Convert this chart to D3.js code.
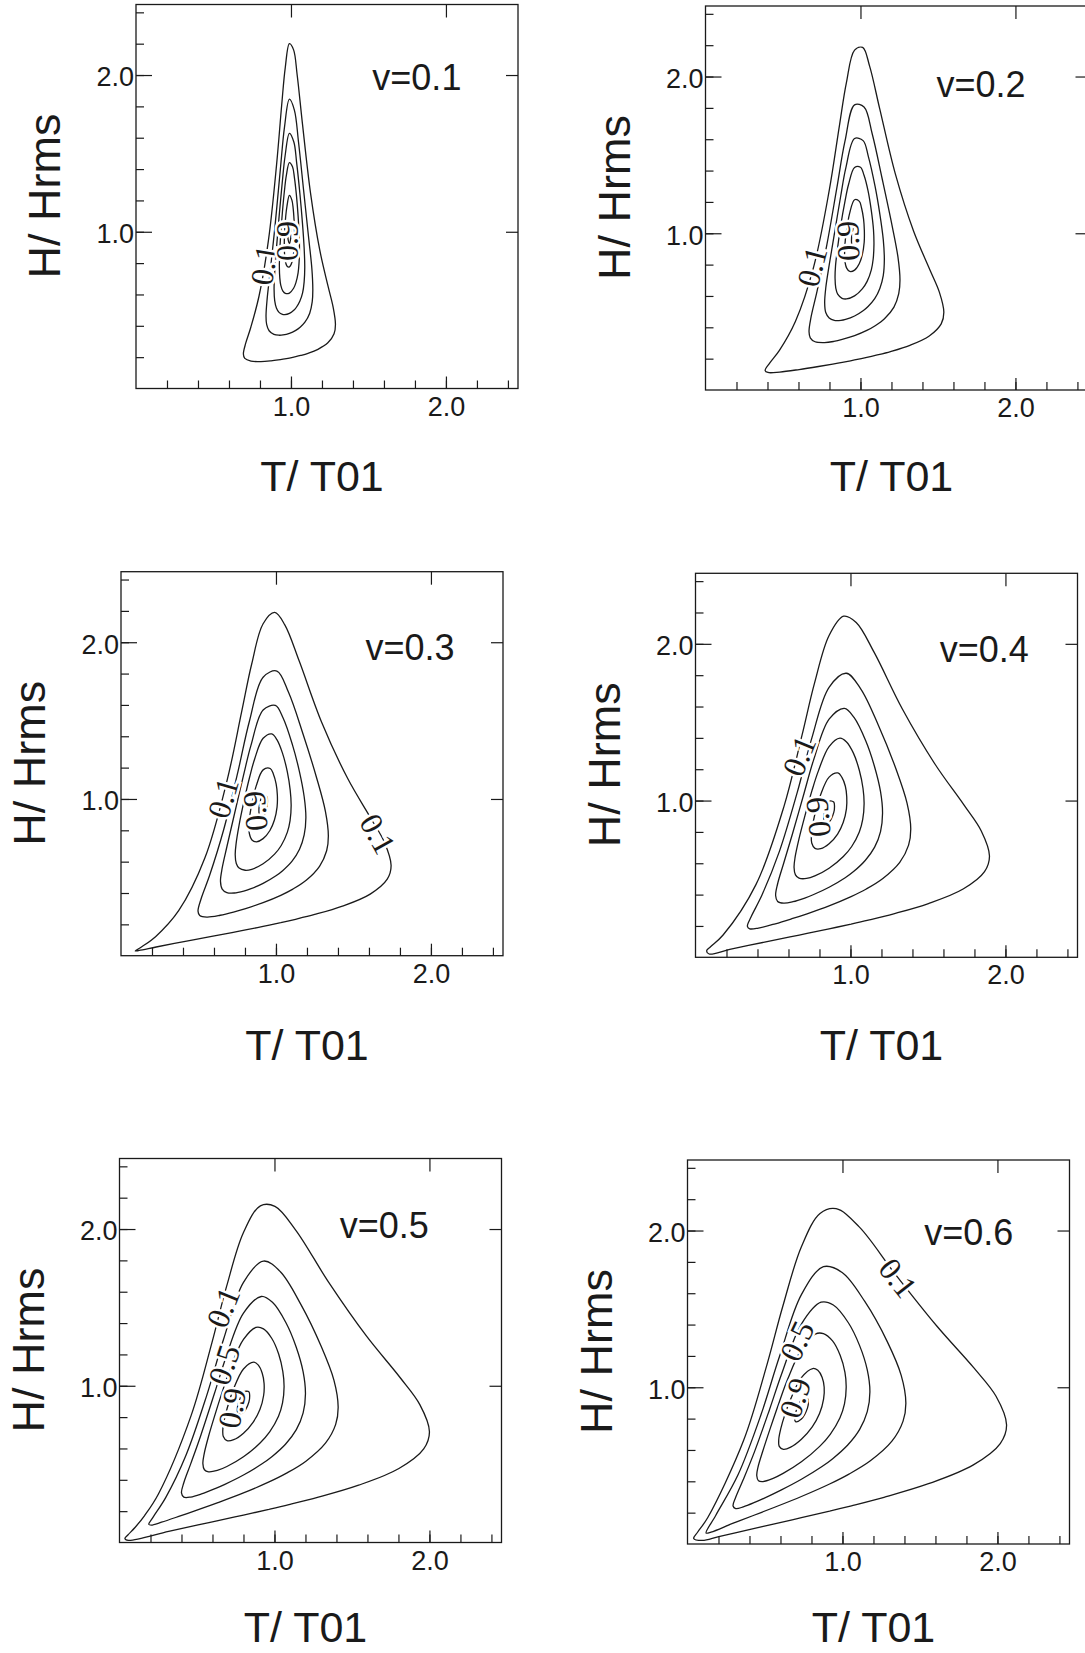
<!DOCTYPE html>
<html><head><meta charset="utf-8">
<script src="https://cdn.jsdelivr.net/npm/d3@7"></script>
<style>body{margin:0;background:#fff}</style>
</head><body>
<svg id="chart" width="1085" height="1653"></svg>
<script>
// ---------------- data ----------------
const nuValues = [0.1, 0.2, 0.3, 0.4, 0.5, 0.6];
const contourLevels = [0.1, 0.3, 0.5, 0.7, 0.9, 0.99];
const minorTicks = [0.2, 0.4, 0.6, 0.8, 1.0, 1.2, 1.4, 1.6, 1.8, 2.0, 2.2, 2.4];
const majorTicks = [1.0, 2.0];
const xTitle = "T/ T01";
const yTitle = "H/ Hrms";

// closed contour rings, [T/T01, H/Hrms], one ring per level (0.1 .. 0.99)
const contoursNu01 = [
 [[.990,.1945],[1.031,.2031],[1.063,.2110],[1.110,.2248],[1.174,.2501],[1.238,.2914],[1.278,.3495],[1.287,.4090],[1.272,.5190],[1.240,.6495],[1.186,.8821],[1.126,1.2485],[1.074,1.6899],[1.040,2.0000],[1.017,2.1606],[.990,2.2002],
  [.963,2.0462],[.940,1.8069],[.907,1.4269],[.855,.9479],[.794,.5901],[.740,.3879],[.708,.2890],[.693,.2202],[.702,.1921],[.742,.1746],[.806,.1717],[.871,.1764],[.918,.1822],[.949,.1871]],
 [[.990,.3518],[1.031,.3710],[1.059,.3907],[1.090,.4228],[1.121,.4806],[1.137,.5524],[1.141,.6283],[1.135,.7628],[1.114,.9620],[1.082,1.2606],[1.049,1.5695],[1.022,1.7763],[.990,1.8459],
  [.958,1.6658],[.931,1.3933],[.898,1.0468],[.866,.7474],[.846,.5686],[.839,.4617],[.843,.4094],[.859,.3684],[.890,.3454],[.921,.3399],[.949,.3416]],
 [[.990,.4792],[1.020,.5006],[1.035,.5184],[1.057,.5565],[1.075,.6097],[1.085,.6806],[1.089,.7740],[1.085,.8960],[1.074,1.0565],[1.058,1.2397],[1.036,1.4463],[1.019,1.5709],[.990,1.6280],
  [.962,1.4833],[.944,1.3173],[.922,1.0803],[.906,.8909],[.895,.7388],[.891,.6332],[.895,.5612],[.906,.5139],[.923,.4859],[.945,.4732],[.960,.4714]],
 [[.990,.6090],[1.017,.6397],[1.032,.6757],[1.046,.7383],[1.052,.8007],[1.055,.8870],[1.053,.9785],[1.046,1.1016],[1.035,1.2351],[1.022,1.3476],[1.010,1.4144],[.990,1.4409],
  [.970,1.3584],[.958,1.2636],[.945,1.1279],[.934,.9836],[.927,.8617],[.925,.7780],[.928,.7059],[.934,.6595],[.948,.6210],[.964,.6063]],
 [[.990,.7759],[1.006,.8049],[1.016,.8551],[1.022,.9270],[1.023,.9998],[1.020,1.0749],[1.014,1.1513],[1.006,1.2017],[.990,1.2316],
  [.974,1.1627],[.966,1.0975],[.960,1.0117],[.957,.9358],[.958,.8688],[.964,.8109],[.975,.7799]],
 [[.990,.9250],[.999,.9643],[1.000,1.0000],[.999,1.0342],[.990,1.0668],[.981,1.0162],[.980,.9801],[.982,.9477]]
];
const contoursNu02 = [
 [[.962,.1917],[1.041,.2081],[1.102,.2222],[1.194,.2455],[1.319,.2852],[1.444,.3449],[1.521,.4221],[1.538,.4961],[1.509,.6247],[1.447,.7690],[1.343,1.0131],[1.225,1.3786],[1.124,1.7951],[1.059,2.0661],[1.014,2.1858],[.962,2.1684],
  [.909,1.9602],[.864,1.6857],[.799,1.2766],[.698,.7860],[.580,.4377],[.477,.2534],[.414,.1715],[.385,.1240],[.403,.1117],[.479,.1145],[.604,.1306],[.729,.1499],[.821,.1654],[.883,.1765]],
 [[.962,.3467],[1.041,.3801],[1.095,.4101],[1.155,.4547],[1.216,.5289],[1.247,.6148],[1.255,.7012],[1.242,.8474],[1.203,1.0537],[1.140,1.3478],[1.076,1.6335],[1.023,1.8051],[.962,1.8192],
  [.900,1.5873],[.847,1.2863],[.783,.9262],[.720,.6309],[.681,.4646],[.668,.3730],[.676,.3330],[.707,.3077],[.768,.3023],[.828,.3099],[.882,.3223]],
 [[.962,.4723],[1.019,.5076],[1.049,.5332],[1.092,.5831],[1.125,.6479],[1.147,.7297],[1.154,.8321],[1.147,.9607],[1.125,1.1227],[1.094,1.3002],[1.051,1.4890],[1.017,1.5912],[.962,1.6045],
  [.906,1.4188],[.872,1.2346],[.830,.9862],[.798,.7965],[.776,.6505],[.769,.5547],[.776,.4941],[.798,.4593],[.831,.4441],[.874,.4440],[.904,.4502]],
 [[.962,.6002],[1.013,.6468],[1.043,.6929],[1.070,.7664],[1.082,.8358],[1.087,.9279],[1.084,1.0220],[1.070,1.1439],[1.049,1.2701],[1.023,1.3696],[1.000,1.4215],[.962,1.4200],
  [.923,1.3113],[.900,1.2038],[.874,1.0587],[.853,.9111],[.839,.7916],[.836,.7131],[.841,.6490],[.853,.6112],[.881,.5851],[.910,.5811]],
 [[.962,.7647],[.992,.8056],[1.012,.8644],[1.024,.9423],[1.025,1.0170],[1.020,1.0905],[1.007,1.1611],[.993,1.2035],[.962,1.2138],
  [.930,1.1267],[.916,1.0553],[.903,.9659],[.898,.8906],[.899,.8275],[.911,.7776],[.931,.7562]],
 [[.962,.9116],[.978,.9585],[.981,.9953],[.978,1.0282],[.962,1.0514],[.945,.9926],[.942,.9561],[.945,.9259]]
];
const contoursNu03 = [
 [[.917,.1872],[1.031,.2110],[1.119,.2309],[1.250,.2631],[1.429,.3163],[1.608,.3931],[1.718,.4881],[1.743,.5755],[1.701,.7209],[1.612,.8771],[1.463,1.1301],[1.294,1.4913],[1.150,1.8799],[1.057,2.1110],[.992,2.1900],[.917,2.1180],
  [.843,1.8596],[.778,1.5536],[.685,1.1203],[.541,.6230],[.372,.2871],[.223,.1215],[.134,.0569],[.092,.0303],[.117,.0333],[.227,.0555],[.406,.0899],[.585,.1231],[.716,.1477],[.804,.1646]],
 [[.917,.3387],[1.031,.3854],[1.109,.4250],[1.195,.4814],[1.281,.5706],[1.327,.6694],[1.338,.7650],[1.319,.9212],[1.263,1.1324],[1.173,1.4195],[1.081,1.6804],[1.006,1.8162],[.917,1.7769],
  [.829,1.4972],[.754,1.1716],[.662,.8017],[.572,.5130],[.516,.3604],[.497,.2842],[.508,.2564],[.554,.2465],[.640,.2580],[.726,.2782],[.804,.3006]],
 [[.917,.4613],[1.000,.5099],[1.043,.5426],[1.104,.6035],[1.152,.6790],[1.182,.7703],[1.193,.8805],[1.182,1.0140],[1.151,1.1763],[1.106,1.3466],[1.046,1.5164],[.996,1.5964],[.917,1.5672],
  [.839,1.3436],[.789,1.1437],[.728,.8866],[.684,.6983],[.653,.5597],[.642,.4741],[.653,.4251],[.683,.4026],[.731,.3999],[.792,.4120],[.835,.4257]],
 [[.917,.5863],[.991,.6479],[1.034,.7031],[1.073,.7866],[1.091,.8621],[1.098,.9588],[1.092,1.0545],[1.073,1.1741],[1.042,1.2922],[1.006,1.3782],[.973,1.4153],[.917,1.3870],
  [.862,1.2539],[.829,1.1354],[.793,.9824],[.762,.8331],[.743,.7169],[.737,.6440],[.744,.5883],[.762,.5590],[.801,.5452],[.844,.5515]],
 [[.917,.7469],[.961,.7989],[.990,.8656],[1.007,.9484],[1.009,1.0243],[1.001,1.0955],[.983,1.1599],[.963,1.1943],[.917,1.1856],
  [.872,1.0817],[.852,1.0049],[.834,.9131],[.826,.8391],[.828,.7802],[.845,.7382],[.874,.7267]],
 [[.917,.8904],[.941,.9441],[.945,.9817],[.942,1.0130],[.917,1.0270],[.893,.9608],[.890,.9243],[.894,.8963]]
];
const contoursNu04 = [
 [[.862,.1815],[1.004,.2120],[1.115,.2372],[1.279,.2777],[1.503,.3431],[1.727,.4357],[1.865,.5466],[1.897,.6459],[1.844,.8062],[1.732,.9723],[1.546,1.2318],[1.334,1.5860],[1.153,1.9451],[1.037,2.1364],[.956,2.1764],[.862,2.0532],
  [.768,1.7493],[.687,1.4160],[.571,.9633],[.390,.4636],[.178,.1421],[.097,.067],[.072,.042],[.088,.021],[.221,.0505],[.446,.0967],[.610,.1298],[.720,.1522]],
 [[.862,.3283],[1.004,.3873],[1.102,.4357],[1.209,.5028],[1.318,.6056],[1.375,.7155],[1.389,.8192],[1.365,.9837],[1.295,1.1980],[1.182,1.4758],[1.067,1.7111],[.973,1.8122],[.862,1.7226],
  [.751,1.3998],[.657,1.0537],[.542,.6774],[.429,.3972],[.359,.2587],[.335,.1978],[.350,.1819],[.406,.1866],[.515,.2140],[.622,.2461],[.720,.2777]],
 [[.862,.4472],[.966,.5079],[1.020,.5472],[1.095,.6179],[1.156,.7027],[1.194,.8024],[1.207,.9191],[1.194,1.0564],[1.155,1.2175],[1.099,1.3797],[1.023,1.5303],[.961,1.5886],[.862,1.5192],
  [.763,1.2616],[.701,1.0485],[.625,.7851],[.569,.5997],[.530,.4692],[.517,.3939],[.530,.3564],[.569,.3457],[.629,.3547],[.705,.3782],[.759,.3991]],
 [[.862,.5683],[.954,.6435],[1.008,.7070],[1.057,.7993],[1.079,.8799],[1.088,.9804],[1.081,1.0768],[1.057,1.1933],[1.019,1.3027],[.973,1.3753],[.932,1.3981],[.862,1.3446],
  [.793,1.1895],[.751,1.0615],[.706,.9023],[.667,.7525],[.643,.6404],[.636,.5734],[.645,.5261],[.668,.5051],[.717,.5030],[.770,.5191]],
 [[.862,.7240],[.917,.7862],[.953,.8595],[.974,.9466],[.976,1.0228],[.967,1.0914],[.944,1.1495],[.919,1.1760],[.862,1.1493],
  [.805,1.0304],[.780,.9491],[.758,.8556],[.748,.7834],[.750,.7292],[.771,.6951],[.808,.6928]],
 [[.862,.8631],[.892,.9231],[.897,.9610],[.892,.9904],[.862,.9955],[.832,.9230],[.827,.8868],[.832,.8612]]
];
const contoursNu05 = [
 [[.800,.1749],[.964,.2114],[1.093,.2414],[1.283,.2892],[1.543,.3657],[1.803,.4722],[1.963,.5974],[2.000,.7070],[1.938,.8798],[1.809,1.0543],[1.593,1.3178],[1.348,1.6628],[1.138,1.9919],[1.003,2.1447],[.909,2.1479],[.800,1.9778],
  [.691,1.6337],[.597,1.2773],[.462,.8097],[.252,.3114],[.162,.172],[.100,.096],[.054,.048],[.035,.025],[.057,.0135],[.317,.0714],[.507,.1120],[.636,.1394]],
 [[.800,.3163],[.965,.3863],[1.078,.4425],[1.203,.5190],[1.329,.6337],[1.395,.7536],[1.411,.8641],[1.384,1.0349],[1.302,1.2504],[1.171,1.5178],[1.038,1.7275],[.929,1.7956],[.800,1.6593],
  [.672,1.2986],[.562,.9357],[.429,.5564],[.298,.2862],[.217,.1619],[.189,.1157],[.205,.1110],[.271,.1293],[.397,.1714],[.522,.2141],[.635,.2543]],
 [[.800,.4307],[.920,.5023],[.983,.5474],[1.071,.6270],[1.141,.7200],[1.185,.8267],[1.200,.9486],[1.185,1.0884],[1.140,1.2474],[1.075,1.4007],[.987,1.5323],[.915,1.5696],[.800,1.4634],
  [.685,1.1759],[.613,.9519],[.525,.6846],[.460,.5032],[.415,.3812],[.400,.3162],[.415,.2895],[.459,.2900],[.529,.3100],[.617,.3440],[.680,.3713]],
 [[.800,.5475],[.907,.6349],[.969,.7057],[1.026,.8053],[1.052,.8902],[1.062,.9933],[1.054,1.0898],[1.027,1.2026],[.982,1.3031],[.929,1.3626],[.881,1.3719],[.800,1.2952],
  [.719,1.1207],[.671,.9847],[.618,.8209],[.573,.6718],[.546,.5644],[.538,.5033],[.548,.4642],[.575,.4511],[.631,.4599],[.693,.4851]],
 [[.800,.6975],[.863,.7685],[.906,.8479],[.930,.9380],[.933,1.0142],[.921,1.0798],[.896,1.1315],[.866,1.1503],[.800,1.1071],
  [.734,.9749],[.705,.8901],[.679,.7958],[.667,.7258],[.670,.6762],[.694,.6497],[.737,.6561]],
 [[.800,.8314],[.835,.8966],[.840,.9346],[.835,.9621],[.800,.9590],[.765,.8810],[.760,.8452],[.765,.8220]]
];
const contoursNu06 = [
 [[.735,.1676],[.917,.2097],[1.058,.2438],[1.268,.2982],[1.555,.3845],[1.842,.5030],[2.018,.6405],[2.059,.7591],[1.991,.9425],[1.848,1.1234],[1.610,1.3892],[1.339,1.7238],[1.108,2.0231],[.959,2.1394],[.855,2.1086],[.735,1.8962],
  [.615,1.5169],[.512,1.1414],[.363,.6629],[.131,.1690],[.065,.075],[.040,.035],[.096,.0228],[.202,.0476],[.412,.0950],[.554,.1267]],
 [[.735,.3032],[.917,.3830],[1.042,.4462],[1.180,.5310],[1.319,.6560],[1.391,.7840],[1.409,.9002],[1.379,1.0759],[1.289,1.2913],[1.144,1.5473],[.998,1.7321],[.877,1.7690],[.735,1.5908],
  [.594,1.1974],[.473,.8213],[.326,.4413],[.182,.1819],[.120,.070],[.152,.0756],[.291,.1310],[.429,.1834],[.554,.2312]],
 [[.735,.4130],[.868,.4941],[.937,.5443],[1.034,.6315],[1.111,.7314],[1.160,.8441],[1.177,.9701],[1.160,1.1111],[1.110,1.2673],[1.038,1.4116],[.941,1.5246],[.862,1.5425],[.735,1.4030],
  [.609,1.0897],[.529,.8570],[.432,.5878],[.360,.4111],[.311,.2977],[.294,.2425],[.311,.2261],[.360,.2368],[.437,.2669],[.534,.3103],[.603,.3435]],
 [[.735,.5249],[.853,.6231],[.921,.7001],[.984,.8060],[1.013,.8943],[1.024,.9993],[1.016,1.0951],[.985,1.2038],[.936,1.2955],[.877,1.3425],[.824,1.3393],[.735,1.2417],
  [.646,1.0504],[.593,.9079],[.535,.7409],[.486,.5932],[.455,.4907],[.447,.4357],[.458,.4041],[.487,.3986],[.549,.4173],[.617,.4507]],
 [[.735,.6687],[.805,.7476],[.852,.8319],[.878,.9244],[.882,.9999],[.869,1.0625],[.841,1.1079],[.808,1.1196],[.735,1.0614],
  [.663,.9179],[.630,.8303],[.602,.7357],[.589,.6683],[.592,.6232],[.619,.6039],[.666,.6182]],
 [[.735,.7971],[.774,.8667],[.780,.9046],[.774,.9303],[.735,.9194],[.697,.8369],[.691,.8017],[.697,.7811]]
];
const allContours = [contoursNu01, contoursNu02, contoursNu03, contoursNu04, contoursNu05, contoursNu06];

// contour labels: [text, T, H]
const contourLabelsNu01 = [["0.1", .826, .788], ["0.9", .977, .941]];
const contourLabelsNu02 = [["0.1", .687, .787], ["0.9", .919, .951]];
const contourLabelsNu03 = [["0.1", .658, 1.006], ["0.9", .865, .923], ["0.1", 1.658, .777]];
const contourLabelsNu04 = [["0.1", .668, 1.285], ["0.9", .790, .895]];
const contourLabelsNu05 = [["0.1", .668, 1.50], ["0.5", .674, 1.133], ["0.9", .726, .858]];
const contourLabelsNu06 = [["0.1", 1.358, 1.698], ["0.5", .706, 1.295], ["0.9", .694, .932]];
const allLabels = [contourLabelsNu01, contourLabelsNu02, contourLabelsNu03, contourLabelsNu04, contourLabelsNu05, contourLabelsNu06];

// ---------------- layout (positions / styles) ----------------
const panelLayout = [
  {left:136,   top:4.5,    titleAt:[1.525,1.905], xTitleY:491,  labelAngles:[-81,-90]},
  {left:705.5, top:6,      titleAt:[1.490,1.872], xTitleY:491,  labelAngles:[-75,-92]},
  {left:121,   top:571.7,  titleAt:[1.578,1.887], xTitleY:1060, labelAngles:[-74,-95,61]},
  {left:695.5, top:573.3,  titleAt:[1.576,1.886], xTitleY:1060, labelAngles:[-68,-95]},
  {left:119.5, top:1158.5, titleAt:[1.421,1.941], xTitleY:1642, labelAngles:[-68,-72,-80]},
  {left:687.5, top:1160,   titleAt:[1.528,1.908], xTitleY:1642, labelAngles:[52,-65,-72]}
];
const PW = 382, PH = 384;
const SANS = "'Liberation Sans', Arial, Helvetica, sans-serif";
const SERIF = "'Liberation Serif', 'Times New Roman', serif";
const INK = "#1a1a1a";

const svg = d3.select("#chart");
svg.append("rect").attr("width",1085).attr("height",1653).attr("fill","#fff");

function styleAxis(sel, fontSize) {
  sel.select(".domain").remove();
  sel.selectAll("line").attr("stroke", INK).attr("stroke-width", 1.2);
  sel.selectAll("text").attr("fill", INK).style("font-family", SANS).style("font-size", fontSize + "px");
}

panelLayout.forEach((p, i) => {
  const x = d3.scaleLinear().domain([0, 2.465]).range([0, PW]);
  const y = d3.scaleLinear().domain([0, 2.45]).range([PH, 0]);
  const g = svg.append("g").attr("transform", `translate(${p.left},${p.top})`);

  // frame
  g.append("rect").attr("width", PW).attr("height", PH)
    .attr("fill", "none").attr("stroke", INK).attr("stroke-width", 1.3);

  // bottom ticks (inward)
  g.append("g").attr("transform", `translate(0,${PH})`)
    .call(d3.axisBottom(x).tickValues(minorTicks).tickSize(-8).tickFormat(""))
    .call(s => styleAxis(s, 27));
  g.append("g").attr("transform", `translate(0,${PH})`)
    .call(d3.axisBottom(x).tickValues(majorTicks).tickSize(-12).tickPadding(8).tickFormat(d3.format(".1f")))
    .call(s => styleAxis(s, 27));
  // left ticks
  g.append("g")
    .call(d3.axisLeft(y).tickValues(minorTicks).tickSize(-8).tickFormat(""))
    .call(s => styleAxis(s, 27));
  g.append("g")
    .call(d3.axisLeft(y).tickValues(majorTicks).tickSize(-16).tickPadding(2).tickFormat(d3.format(".1f")))
    .call(s => { styleAxis(s, 27); s.selectAll("text").attr("dy", "0.4em"); });
  // top and right major ticks
  g.append("g")
    .call(d3.axisTop(x).tickValues(majorTicks).tickSize(-13).tickFormat(""))
    .call(s => styleAxis(s, 27));
  g.append("g").attr("transform", `translate(${PW},0)`)
    .call(d3.axisRight(y).tickValues(majorTicks).tickSize(-12).tickFormat(""))
    .call(s => styleAxis(s, 27));

  // contours
  const line = d3.line().x(d => x(d[0])).y(d => y(d[1]))
    .curve(d3.curveCatmullRomClosed.alpha(0.5));
  g.selectAll("path.contour").data(allContours[i]).join("path")
    .attr("class", "contour")
    .attr("d", line)
    .attr("fill", "none").attr("stroke", INK).attr("stroke-width", 1.3)
    .attr("stroke-linejoin", "round");

  // contour labels
  allLabels[i].forEach((lab, j) => {
    g.append("text")
      .attr("transform", `translate(${x(lab[1])},${y(lab[2])}) rotate(${p.labelAngles[j]})`)
      .attr("text-anchor", "middle").attr("dominant-baseline", "central")
      .attr("fill", INK).attr("stroke", "#fff").attr("stroke-width", 5)
      .attr("paint-order", "stroke fill")
      .style("font-family", SERIF).style("font-size", "32px")
      .text(lab[0]);
  });

  // nu title
  g.append("text")
    .attr("x", x(p.titleAt[0])).attr("y", y(p.titleAt[1]))
    .attr("fill", INK)
    .style("font-family", SANS).style("font-size", "36px")
    .text("v=" + nuValues[i].toFixed(1));

  // axis titles
  svg.append("text")
    .attr("transform", `translate(${p.left - 76},${p.top + 191.5}) rotate(-90)`)
    .attr("text-anchor", "middle").attr("fill", INK)
    .style("font-family", SANS).style("font-size", "45px")
    .text(yTitle);
  svg.append("text")
    .attr("x", p.left + 186).attr("y", p.xTitleY)
    .attr("text-anchor", "middle").attr("fill", INK)
    .style("font-family", SANS).style("font-size", "43px")
    .text(xTitle);
});
</script>
</body></html>
